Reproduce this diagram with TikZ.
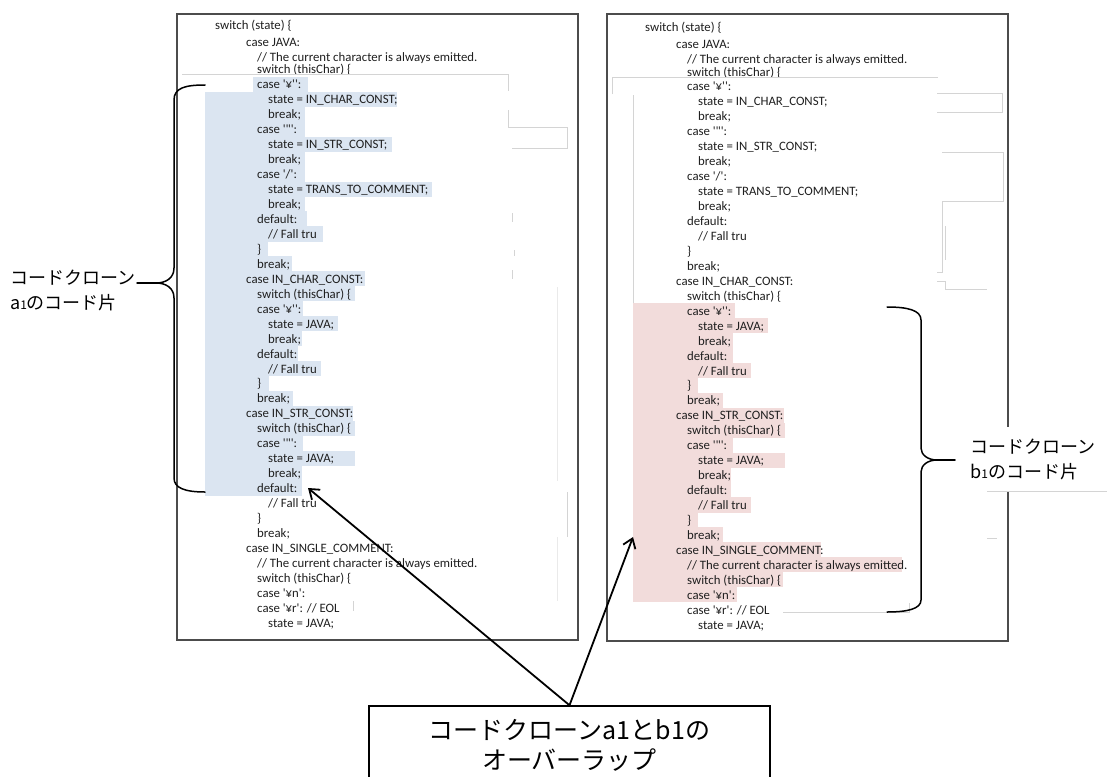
\documentclass[tikz,border=0pt]{standalone}
\usepackage{fontspec}
\newfontfamily\codefont{Carlito}
\newfontfamily\jpfont{Noto Sans CJK JP}
\usetikzlibrary{arrows.meta}
\definecolor{selblue}{RGB}{219,229,241}
\definecolor{selpink}{RGB}{242,220,219}
\definecolor{artifact}{RGB}{212,212,212}

% panel state used by the listing macros
\newcommand\panelx{0}
\newcommand\panely{0}
\newcommand\panelname{L}

% one source line: #1 line number, #2 indent (x), #3 text
\newcommand\codeln[3]{%
  \ifnum#1<4 \edef\yy{\ifcase#1\or25\or42\or57\fi}\else\pgfmathsetmacro\yy{69.5+(#1-4)*14.95}\fi
  \node[code] (\panelname#1) at ({\panelx+#2},{\yy+\panely+4.5}) {#3};}

% selection band behind one line: #1 colour, #2 left x, #3 line number, #4 right x
\newcommand\selband[4]{%
  \pgfmathsetmacro\yy{69.5+(#3-4)*14.95+\panely}%
  \fill[#1] ({\panelx+#2},{\yy-7.6}) rectangle ({\panelx+#4},{\yy+7.6});}

% the whole listing, indents 215 / 246 / 257 / 268
\newcommand\listing{%
  \codeln{1}{215}{switch (state) \{}
  \codeln{2}{246}{case JAVA:}
  \codeln{3}{257}{// The current character is always emitted.}
  \codeln{4}{257}{switch (thisChar) \{}
  \codeln{5}{257}{case '¥'':}
  \codeln{6}{268}{state = IN\_CHAR\_CONST;}
  \codeln{7}{268}{break;}
  \codeln{8}{257}{case '"':}
  \codeln{9}{268}{state = IN\_STR\_CONST;}
  \codeln{10}{268}{break;}
  \codeln{11}{257}{case '/':}
  \codeln{12}{268}{state = TRANS\_TO\_COMMENT;}
  \codeln{13}{268}{break;}
  \codeln{14}{257}{default:}
  \codeln{15}{268}{// Fall tru}
  \codeln{16}{257}{\}}
  \codeln{17}{257}{break;}
  \codeln{18}{246}{case IN\_CHAR\_CONST:}
  \codeln{19}{257}{switch (thisChar) \{}
  \codeln{20}{257}{case '¥'':}
  \codeln{21}{268}{state = JAVA;}
  \codeln{22}{268}{break;}
  \codeln{23}{257}{default:}
  \codeln{24}{268}{// Fall tru}
  \codeln{25}{257}{\}}
  \codeln{26}{257}{break;}
  \codeln{27}{246}{case IN\_STR\_CONST:}
  \codeln{28}{257}{switch (thisChar) \{}
  \codeln{29}{257}{case '"':}
  \codeln{30}{268}{state = JAVA;}
  \codeln{31}{268}{break;}
  \codeln{32}{257}{default:}
  \codeln{33}{268}{// Fall tru}
  \codeln{34}{257}{\}}
  \codeln{35}{257}{break;}
  \codeln{36}{246}{case IN\_SINGLE\_COMMENT:}
  \codeln{37}{257}{// The current character is always emitted.}
  \codeln{38}{257}{switch (thisChar) \{}
  \codeln{39}{257}{case '¥n':}
  \codeln{40}{257}{case '¥r': // EOL}
  \codeln{41}{268}{state = JAVA;}
}

\begin{document}
\begin{tikzpicture}[x=1pt,y=-1pt,
  code/.style={anchor=base west, inner sep=0pt,
    font=\codefont\fontsize{12.8}{14}\selectfont, text=black!88},
  panel/.style={draw=black!70, line width=1.4pt},
  faint/.style={draw=artifact, line width=0.8pt},
  brace/.style={draw=black, line width=1.5pt, line cap=round, line join=round},
  ptr/.style={draw=black, line width=1.8pt, -{Straight Barb[length=9pt,width=13pt]}},
  jplabel/.style={font=\jpfont\fontsize{18}{25}\selectfont, align=left, inner sep=0pt}]

\useasboundingbox (0,0) rectangle (1107,776);
\fill[white] (0,0) rectangle (1107,776);

% ---------- left listing: clone a1 selected in blue ----------
\renewcommand\panelx{0}\renewcommand\panely{0}\renewcommand\panelname{L}
\selband{selblue}{253}{5}{308}
\selband{selblue}{205}{6}{397}
\selband{selblue}{205}{7}{305}
\selband{selblue}{205}{8}{305}
\selband{selblue}{205}{9}{392}
\selband{selblue}{205}{10}{305}
\selband{selblue}{205}{11}{305}
\selband{selblue}{205}{12}{432}
\selband{selblue}{205}{13}{305}
\selband{selblue}{205}{14}{307}
\selband{selblue}{205}{15}{323}
\selband{selblue}{205}{16}{268}
\selband{selblue}{205}{17}{292}
\selband{selblue}{205}{18}{365}
\selband{selblue}{205}{19}{355}
\selband{selblue}{205}{20}{303}
\selband{selblue}{205}{21}{338}
\selband{selblue}{205}{22}{302}
\selband{selblue}{205}{23}{298}
\selband{selblue}{205}{24}{321}
\selband{selblue}{205}{25}{269}
\selband{selblue}{205}{26}{293}
\selband{selblue}{205}{27}{353}
\selband{selblue}{205}{28}{355}
\selband{selblue}{205}{29}{303}
\selband{selblue}{205}{30}{355}
\selband{selblue}{205}{31}{302}
\selband{selblue}{205}{32}{302}
\listing

% ---------- right listing: clone b1 selected in pink ----------
\renewcommand\panelx{430}\renewcommand\panely{2}\renewcommand\panelname{R}
\selband{selpink}{203}{20}{305}
\selband{selpink}{203}{21}{338}
\selband{selpink}{203}{22}{303}
\selband{selpink}{203}{23}{303}
\selband{selpink}{203}{24}{321}
\selband{selpink}{203}{25}{268}
\selband{selpink}{203}{26}{293}
\selband{selpink}{203}{27}{354}
\selband{selpink}{203}{28}{355}
\selband{selpink}{203}{29}{303}
\selband{selpink}{203}{30}{355}
\selband{selpink}{203}{31}{301}
\selband{selpink}{203}{32}{301}
\selband{selpink}{203}{33}{321}
\selband{selpink}{203}{34}{268}
\selband{selpink}{203}{35}{293}
\selband{selpink}{203}{36}{391}
\selband{selpink}{203}{37}{472}
\selband{selpink}{203}{38}{353}
\selband{selpink}{203}{39}{307}
\listing

% ---------- leftover box edges inside the panels ----------
\draw[faint] (182,74) -- (508,74) -- (508,91);
\draw[faint] (508,110) -- (508,127) -- (567,127) -- (567,148) -- (512,148);
\draw[faint] (512,213) -- (512,222);
\draw[faint] (514,250) -- (514,256);
\draw[faint] (512,270) -- (512,279);
\draw[faint, draw=artifact!50] (557,287) -- (557,481);
\draw[faint] (567,492) -- (567,537);
\draw[faint, draw=artifact!50] (557,537) -- (557,601);
\draw[faint] (353,601) -- (353,611);

\draw[faint] (612,94) -- (612,77) -- (938,77);
\draw[faint] (633,95) -- (633,303);
\draw[faint] (937,93) -- (1002,93) -- (1002,112) -- (937,112);
\draw[faint] (942,152) -- (1003,152) -- (1003,201) -- (942,201) -- (942,272) -- (937,272);
\draw[faint] (945,226) -- (945,260);
\draw[faint] (937,281) -- (945,281) -- (945,289) -- (987,289);
\draw[faint] (987,538) -- (997,538);
\draw[faint] (783,612) -- (909,612) -- (909,603);

% ---------- panel frames ----------
\draw[panel] (177,14) rectangle (578,640);
\draw[panel] (607,14) rectangle (1008,641);

% ---------- brace for clone a1 ----------
\coordinate (tipL) at (156,283);
\draw[brace] (205,85) .. controls (185,85) and (174,88) .. (174,100)
  -- (174,268) .. controls (174,278) and (166,283) .. (tipL)
  .. controls (166,283) and (174,288) .. (174,298)
  -- (174,478) .. controls (174,488) and (185,492) .. (205,492);
\node[jplabel, anchor=west] (la) at (10,290)
  {コードクローン\\a{\fontsize{12}{12}\selectfont 1}のコード片};
\draw[brace] (tipL) -- (137,283);

% ---------- brace for clone b1 ----------
\coordinate (tipR) at (937,460);
\draw[brace] (887,307) .. controls (907,307) and (921,310) .. (921,320)
  -- (921,448) .. controls (921,455) and (928,460) .. (tipR)
  .. controls (928,460) and (921,465) .. (921,472)
  -- (921,600) .. controls (921,609) and (907,612) .. (887,612);
\draw[brace] (tipR) -- (955,460);
\node[jplabel, anchor=north west, fill=white, minimum height=64pt,
  text width=137pt, inner xsep=4pt] (lb) at (966,427)
  {コードクローン\\b{\fontsize{12}{12}\selectfont 1}のコード片};
\draw[faint] ([xshift=21pt]lb.south west) -- (lb.south east);

% ---------- overlap callout ----------
\node[draw=black, line width=1.5pt, minimum width=401pt, minimum height=78pt,
  align=center, inner sep=0pt, font=\jpfont\fontsize{25}{30}\selectfont]
  (ov) at (569.5,745) {コードクローンa1とb1の\\オーバーラップ};
\coordinate (tipA) at (308,488);
\coordinate (tipB) at (633,537);
\draw[ptr] (ov.north) -- (tipA);
\draw[ptr] (ov.north) -- (tipB);
\end{tikzpicture}
\end{document}
